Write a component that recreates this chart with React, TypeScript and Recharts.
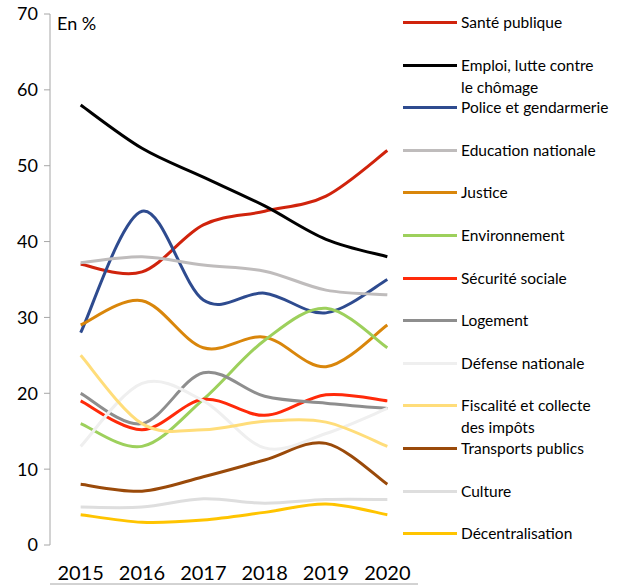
import React from "react";
import { LineChart, Line, XAxis, YAxis } from "recharts";

const years = ["2015", "2016", "2017", "2018", "2019", "2020"];
const yTicks = [0, 10, 20, 30, 40, 50, 60, 70];
const boundaryTicks = [0, 1, 2, 3, 4, 5, 6];

const santePublique = [37, 36, 42.2, 44, 46, 52];
const emploi = [58, 52.3, 48.5, 44.7, 40.3, 38];
const police = [28, 44, 32.3, 33.2, 30.6, 35];
const education = [37.2, 38, 36.9, 36.1, 33.6, 33];
const justice = [29, 32.2, 26, 27.4, 23.5, 29];
const environnement = [16, 13, 19.2, 27, 31.2, 26];
const securiteSociale = [19, 15.2, 19.2, 17.1, 19.8, 19];
const logement = [20, 16, 22.7, 19.6, 18.7, 18];
const defense = [13, 21.3, 19, 12.8, 14.7, 18];
const fiscalite = [25, 16, 15.2, 16.3, 16.2, 13];
const transports = [8, 7.1, 9, 11.2, 13.4, 8];
const culture = [5, 5, 6.1, 5.5, 6, 6];
const decentralisation = [4, 3, 3.3, 4.3, 5.4, 4];

const series = [
  { key: "sante", name: "Santé publique", color: "#d0230c", values: santePublique },
  { key: "emploi", name: "Emploi, lutte contre\nle chômage", color: "#000000", values: emploi },
  { key: "police", name: "Police et gendarmerie", color: "#2e4b8f", values: police },
  { key: "education", name: "Education nationale", color: "#bfbcbc", values: education },
  { key: "justice", name: "Justice", color: "#d9860b", values: justice },
  { key: "environnement", name: "Environnement", color: "#9dd05c", values: environnement },
  { key: "secu", name: "Sécurité sociale", color: "#ff2a0a", values: securiteSociale },
  { key: "logement", name: "Logement", color: "#8e8e8e", values: logement },
  { key: "defense", name: "Défense nationale", color: "#efefef", values: defense },
  { key: "fiscalite", name: "Fiscalité et collecte\ndes impôts", color: "#ffdd7a", values: fiscalite },
  { key: "transports", name: "Transports publics", color: "#9a4a0a", values: transports },
  { key: "culture", name: "Culture", color: "#dedede", values: culture },
  { key: "decentralisation", name: "Décentralisation", color: "#ffc400", values: decentralisation },
];

const data = years.map((year, i) => {
  const row: Record<string, string | number> = { year };
  series.forEach((s) => {
    row[s.key] = s.values[i];
  });
  return row;
});

// Excel-like smoothed line (Catmull-Rom as cubic beziers)
const excelSmooth = (context: any) => {
  let pts: number[][] = [];
  return {
    areaStart() {},
    areaEnd() {},
    lineStart() {
      pts = [];
    },
    point(x: number, y: number) {
      pts.push([+x, +y]);
    },
    lineEnd() {
      const n = pts.length;
      if (!n) return;
      context.moveTo(pts[0][0], pts[0][1]);
      for (let i = 0; i < n - 1; i++) {
        const p0 = pts[i - 1] || pts[i];
        const p1 = pts[i];
        const p2 = pts[i + 1];
        const p3 = pts[i + 2] || p2;
        context.bezierCurveTo(
          p1[0] + (p2[0] - p0[0]) / 6,
          p1[1] + (p2[1] - p0[1]) / 6,
          p2[0] - (p3[0] - p1[0]) / 6,
          p2[1] - (p3[1] - p1[1]) / 6,
          p2[0],
          p2[1]
        );
      }
    },
  };
};

const axisColor = "#a6a6a6";
const font = "Lato, 'Open Sans', sans-serif";

export default function App() {
  return (
    <div style={{ position: "absolute", left: 0, top: 0, width: 630, height: 585, fontFamily: font, background: "#fff" }}>
      <LineChart width={630} height={585} data={data} margin={{ top: 14, right: 212, bottom: 0, left: 0 }}>
        <XAxis
          xAxisId="grid"
          type="number"
          domain={[0, 6]}
          ticks={boundaryTicks}
          tick={false}
          height={1}
          tickSize={6}
          stroke={axisColor}
          tickLine={{ stroke: axisColor }}
          axisLine={{ stroke: axisColor }}
        />
        <XAxis
          dataKey="year"
          scale="band"
          height={39}
          axisLine={false}
          tickLine={false}
          tickMargin={15}
          tick={{ fontSize: 20, fill: "#000", fontFamily: font }}
        />
        <YAxis
          width={50}
          domain={[0, 70]}
          ticks={yTicks}
          tickSize={6}
          tickMargin={6}
          stroke={axisColor}
          tickLine={{ stroke: axisColor }}
          axisLine={{ stroke: axisColor }}
          tick={{ fontSize: 18, fill: "#000", fontFamily: font }}
        />
        {series.map((s) => (
          <Line
            key={s.key}
            dataKey={s.key}
            name={s.name}
            type={excelSmooth as any}
            stroke={s.color}
            strokeWidth={3}
            dot={false}
            activeDot={false}
            isAnimationActive={false}
          />
        ))}
      </LineChart>
      <div style={{ position: "absolute", left: 57, top: 12, fontSize: 18, color: "#000" }}>En %</div>
      {series.map((s, i) => {
        const cy = 22 + i * 42.6;
        return (
          <div key={s.key} style={{ position: "absolute", left: 403, top: cy - 11, width: 227 }}>
            <div style={{ position: "absolute", left: 0, top: 10, width: 54, height: 3, background: s.color }} />
            <div style={{ position: "absolute", left: 58, top: 0, fontSize: 15.5, lineHeight: "22px", whiteSpace: "pre", color: "#000" }}>
              {s.name}
            </div>
          </div>
        );
      })}
    </div>
  );
}
